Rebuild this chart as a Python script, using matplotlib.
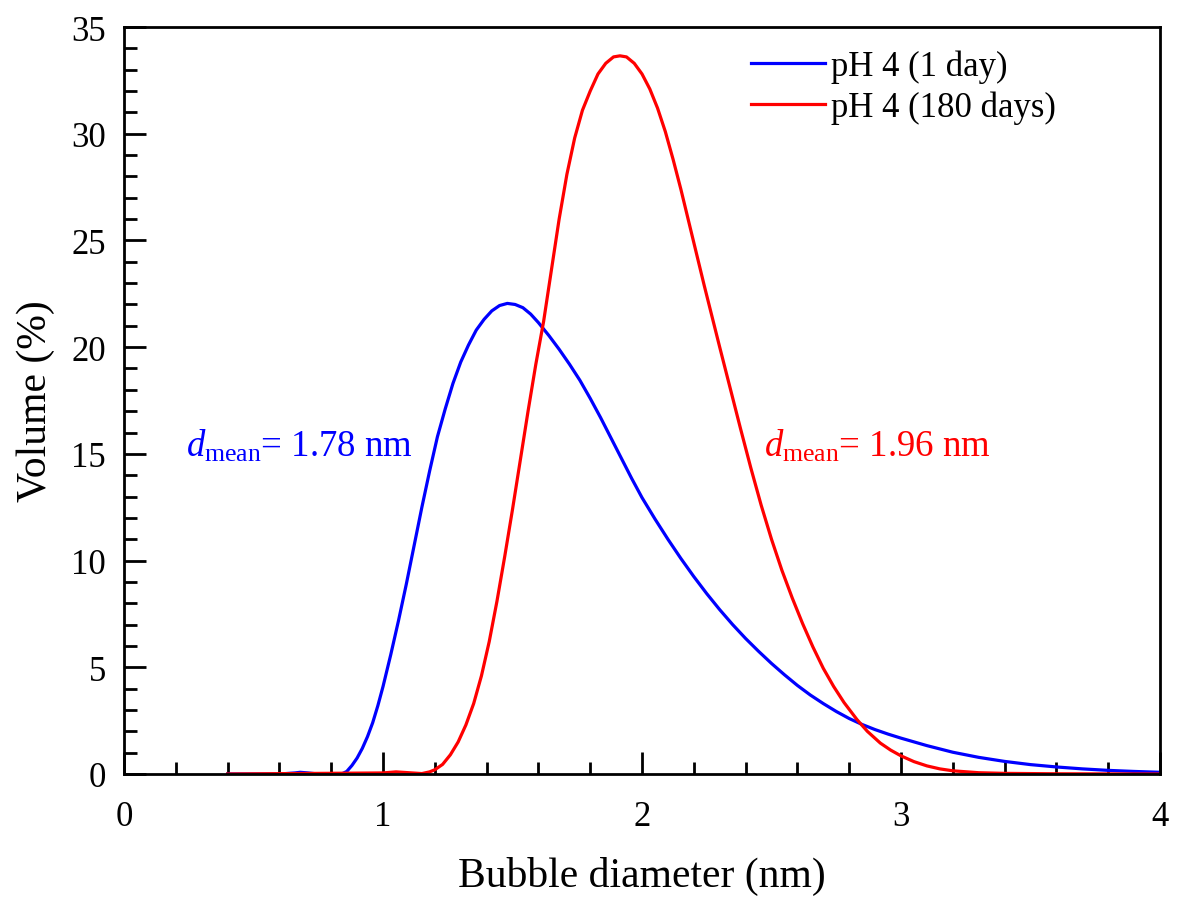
"""Distribución de tamaño de burbujas a pH 4"""
import matplotlib
matplotlib.use("Agg")
import matplotlib.pyplot as plt
from matplotlib.ticker import MultipleLocator

# Datos
diametro_1dia = [0.40, 0.60, 0.66, 0.68, 0.71, 0.75, 0.84, 0.86, 0.88, 0.90,
                 0.92, 0.94, 0.96, 0.98, 1.00, 1.03, 1.06, 1.09, 1.12, 1.15,
                 1.18, 1.21, 1.24, 1.27, 1.30, 1.33, 1.36, 1.39, 1.42, 1.45,
                 1.48, 1.51, 1.54, 1.57, 1.60, 1.64, 1.68, 1.72, 1.76, 1.80,
                 1.84, 1.88, 1.92, 1.96, 2.00, 2.05, 2.10, 2.15, 2.20, 2.25,
                 2.30, 2.35, 2.40, 2.45, 2.50, 2.55, 2.60, 2.65, 2.70, 2.75,
                 2.80, 2.85, 2.90, 2.95, 3.00, 3.10, 3.20, 3.30, 3.40, 3.50,
                 3.60, 3.70, 3.80, 3.90, 4.00]
volumen_1dia = [0, 0, 0.05, 0.08, 0.05, 0, 0, 0.12, 0.4, 0.75,
                1.2, 1.75, 2.4, 3.2, 4.1, 5.6, 7.2, 8.9, 10.7, 12.5,
                14.2, 15.8, 17.1, 18.3, 19.3, 20.1, 20.8, 21.3, 21.7, 21.95,
                22.05, 22.0, 21.85, 21.55, 21.15, 20.55, 19.9, 19.2, 18.45, 17.6,
                16.7, 15.75, 14.8, 13.85, 12.95, 11.95, 11.0, 10.1, 9.25, 8.45,
                7.7, 7.0, 6.35, 5.75, 5.18, 4.65, 4.15, 3.7, 3.3, 2.93,
                2.6, 2.32, 2.08, 1.87, 1.68, 1.33, 1.02, 0.78, 0.59, 0.44,
                0.33, 0.24, 0.17, 0.12, 0.08]

diametro_180dias = [0.40, 1.00, 1.05, 1.10, 1.15, 1.18, 1.20, 1.23, 1.26,
                    1.29, 1.32, 1.35, 1.38, 1.41, 1.44, 1.47, 1.50, 1.53,
                    1.56, 1.59, 1.62, 1.65, 1.68, 1.71, 1.74, 1.77, 1.80,
                    1.83, 1.86, 1.89, 1.915, 1.94, 1.97, 2.00, 2.03, 2.06,
                    2.09, 2.12, 2.15, 2.18, 2.21, 2.24, 2.27, 2.30, 2.34,
                    2.38, 2.42, 2.46, 2.50, 2.54, 2.58, 2.62, 2.66, 2.70,
                    2.74, 2.78, 2.83, 2.87, 2.92, 2.96, 3.00, 3.05, 3.10,
                    3.15, 3.20, 3.30, 3.40, 3.60, 4.00]
volumen_180dias = [0, 0.05, 0.1, 0.06, 0.02, 0.1, 0.2, 0.45, 0.9,
                   1.5, 2.3, 3.3, 4.6, 6.2, 8.1, 10.2, 12.4, 14.7,
                   17.0, 19.2, 21.2, 23.6, 26.0, 28.1, 29.8, 31.1, 32.0,
                   32.8, 33.3, 33.6, 33.65, 33.6, 33.3, 32.8, 32.1, 31.2,
                   30.1, 28.8, 27.4, 25.9, 24.4, 22.9, 21.45, 20.0, 18.1,
                   16.2, 14.35, 12.6, 11.0, 9.55, 8.25, 7.05, 5.95, 4.95,
                   4.1, 3.35, 2.55, 2.0, 1.45, 1.12, 0.85, 0.58, 0.38,
                   0.24, 0.15, 0.06, 0.03, 0.01, 0.0]

etiquetas = ["pH 4 (1 day)", "pH 4 (180 days)"]
textos_media = [r"$\mathit{d}_{\mathrm{mean}}$= 1.78 nm",
                r"$\mathit{d}_{\mathrm{mean}}$= 1.96 nm"]

plt.rcParams["font.family"] = ["Liberation Serif", "DejaVu Serif"]
plt.rcParams["mathtext.fontset"] = "custom"
plt.rcParams["mathtext.rm"] = "Liberation Serif"
plt.rcParams["mathtext.it"] = "Liberation Serif:italic"

figura = plt.figure(figsize=(11.78, 9.04), dpi=100)
eje = figura.add_axes([0.1053, 0.1427, 0.8794, 0.8263])

eje.plot(diametro_1dia, volumen_1dia, color="blue", lw=2.3, label=etiquetas[0])
eje.plot(diametro_180dias, volumen_180dias, color="red", lw=2.3,
         label=etiquetas[1])

eje.set_xlim(0, 4)
eje.set_ylim(0, 35)
eje.xaxis.set_major_locator(MultipleLocator(1))
eje.xaxis.set_minor_locator(MultipleLocator(0.2))
eje.yaxis.set_major_locator(MultipleLocator(5))
eje.yaxis.set_minor_locator(MultipleLocator(1))
eje.tick_params(which="both", direction="in", width=2, labelsize=25,
                top=False, right=False)
eje.tick_params(which="major", length=16)
eje.tick_params(which="minor", length=9)
eje.tick_params(axis="x", which="major", pad=19)
eje.tick_params(axis="y", which="major", pad=13)
for borde in eje.spines.values():
    borde.set_linewidth(2)

eje.set_xlabel("Bubble diameter (nm)", fontsize=30, labelpad=16)
eje.set_ylabel("Volume (%)", fontsize=30, labelpad=12)

eje.text(0.24, 14.9, textos_media[0], color="blue", fontsize=26.5)
eje.text(2.47, 14.9, textos_media[1], color="red", fontsize=26.5)

eje.legend(loc="upper left", frameon=False, fontsize=25, handlelength=2.15,
           handletextpad=0.15, borderaxespad=0, borderpad=0,
           bbox_to_anchor=(0.605, 0.97), labelspacing=0.22)

figura.savefig("out.png", dpi=100)
plt.close(figura)
